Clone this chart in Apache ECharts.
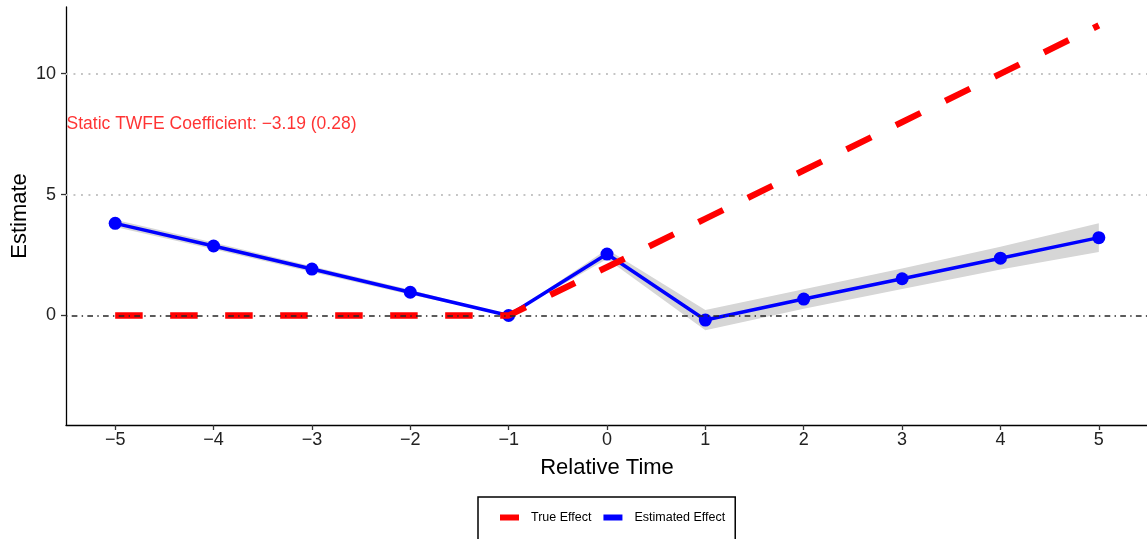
<!DOCTYPE html>
<html>
<head>
<meta charset="utf-8">
<script src="https://cdn.jsdelivr.net/npm/echarts@6/dist/echarts.min.js"></script>
<style>
  html, body { margin: 0; padding: 0; background: #ffffff; }
  #chart { width: 1147px; height: 539px; }
</style>
</head>
<body>
<div id="chart"></div>
<script>
// Event-study estimates against the true dynamic treatment effect
const relTime    = [-5, -4, -3, -2, -1, 0, 1, 2, 3, 4, 5];
const trueEffect = [0, 0, 0, 0, 0, 2, 4, 6, 8, 10, 12];
const estimate   = [3.81, 2.875, 1.92, 0.96, 0, 2.54, -0.19, 0.68, 1.52, 2.37, 3.22];
const ciLower    = [3.66, 2.735, 1.80, 0.86, 0, 2.34, -0.61, 0.28, 1.10, 1.90, 2.63];
const ciUpper    = [3.96, 3.015, 2.04, 1.06, 0, 2.74, 0.23, 1.08, 1.94, 2.84, 3.81];
const xTicks     = [-5, -4, -3, -2, -1, 0, 1, 2, 3, 4, 5];
const yTicks     = [0, 5, 10];
const gridLevels = [5, 10];
const annotation = { x: -5.5, y: 8, text: 'Static TWFE Coefficient: \u22123.19 (0.28)' };

const FONT = '"Liberation Sans", Arial, Helvetica, sans-serif';
const minusSign = v => String(v).replace('-', '\u2212');

const chart = echarts.init(document.getElementById('chart'), null, { renderer: 'canvas' });

chart.setOption({
  animation: false,
  backgroundColor: '#ffffff',
  textStyle: { fontFamily: FONT },
  grid: { left: 66, top: 7, width: 1082, bottom: 114, containLabel: false, outerBoundsMode: 'none' },
  xAxis: {
    type: 'value',
    min: -5.5,
    max: 5.5,
    name: 'Relative Time',
    nameLocation: 'middle',
    nameGap: 32,
    nameMoveOverlap: false,
    nameTextStyle: { fontSize: 22, color: '#000000', fontFamily: FONT },
    axisLine: { show: true, onZero: false, lineStyle: { color: '#000000', width: 1.3 } },
    axisTick: { show: true, customValues: xTicks, length: 5, lineStyle: { color: '#333333', width: 1.3 } },
    axisLabel: { customValues: xTicks, formatter: minusSign, fontSize: 18, color: '#222222', margin: 6, fontFamily: FONT },
    splitLine: { show: false }
  },
  yAxis: {
    type: 'value',
    min: -4.53,
    max: 12.76,
    name: 'Estimate',
    nameLocation: 'middle',
    nameGap: 35,
    nameMoveOverlap: false,
    nameTextStyle: { fontSize: 22, color: '#000000', fontFamily: FONT },
    axisLine: { show: true, onZero: false, lineStyle: { color: '#000000', width: 1.3 } },
    axisTick: { show: true, customValues: yTicks, length: 5, lineStyle: { color: '#333333', width: 1.3 } },
    axisLabel: { customValues: yTicks, formatter: minusSign, fontSize: 18, color: '#222222', margin: 10, fontFamily: FONT },
    splitLine: { show: false }
  },
  legend: {
    data: [
      { name: 'True Effect', icon: 'rect', itemStyle: { color: '#ff0000' } },
      { name: 'Estimated Effect', icon: 'rect', itemStyle: { color: '#0000ff' } }
    ],
    left: 478,
    top: 497,
    orient: 'horizontal',
    itemWidth: 19,
    itemHeight: 6,
    itemGap: 12,
    padding: [14, 10, 20, 22],
    borderColor: '#000000',
    borderWidth: 1.5,
    backgroundColor: '#ffffff',
    selectedMode: false,
    textStyle: { fontSize: 12.5, color: '#000000', fontFamily: FONT, padding: [0, 0, 0, 7] }
  },
  series: [
    {
      // confidence band around the estimates
      type: 'custom',
      name: 'CI',
      z: 2,
      silent: true,
      clip: true,
      data: relTime.map((x, i) => [x, ciLower[i], ciUpper[i]]),
      encode: { x: 0, y: [1, 2] },
      renderItem: function (params, api) {
        if (params.dataIndex !== 0) return null;
        const upper = relTime.map((x, i) => api.coord([x, ciUpper[i]]));
        const lower = relTime.map((x, i) => api.coord([x, ciLower[i]])).reverse();
        return {
          type: 'polygon',
          shape: { points: upper.concat(lower) },
          style: { fill: '#d6d6d6', stroke: null }
        };
      },
      markLine: {
        // dotted horizontal gridlines
        z: 1,
        silent: true,
        symbol: ['none', 'none'],
        label: { show: false },
        emphasis: { disabled: true },
        lineStyle: { color: '#c4c4c4', width: 1.9, type: [1.9, 5.6] },
        data: gridLevels.map(v => ({ yAxis: v }))
      }
    },
    {
      type: 'line',
      name: 'Estimated Effect',
      z: 3,
      data: relTime.map((x, i) => [x, estimate[i]]),
      symbol: 'circle',
      symbolSize: 13,
      color: '#0000ff',
      itemStyle: { color: '#0000ff' },
      lineStyle: { color: '#0000ff', width: 3.5 },
      emphasis: { disabled: true }
    },
    {
      type: 'line',
      name: 'True Effect',
      z: 4,
      data: relTime.map((x, i) => [x, trueEffect[i]]),
      symbol: 'none',
      color: '#ff0000',
      itemStyle: { color: '#ff0000' },
      lineStyle: { color: '#ff0000', width: 6.3, type: [27.5, 27.5], cap: 'butt' },
      emphasis: { disabled: true },
      markLine: {
        // reference line at zero
        z: 10,
        silent: true,
        symbol: ['none', 'none'],
        label: { show: false },
        emphasis: { disabled: true },
        lineStyle: { color: '#262626', width: 1.5, type: [1.42, 4.27, 5.69, 4.27] },
        data: [{ yAxis: 0 }]
      }
    },
    {
      type: 'scatter',
      name: 'annotation',
      z: 5,
      silent: true,
      clip: false,
      data: [[annotation.x, annotation.y]],
      symbolSize: 1,
      itemStyle: { color: 'rgba(0,0,0,0)' },
      label: {
        show: true,
        position: 'right',
        distance: 0,
        offset: [0, 2],
        formatter: annotation.text,
        color: '#ff0000',
        fontSize: 17.5,
        fontFamily: FONT
      }
    }
  ]
});
</script>
</body>
</html>
